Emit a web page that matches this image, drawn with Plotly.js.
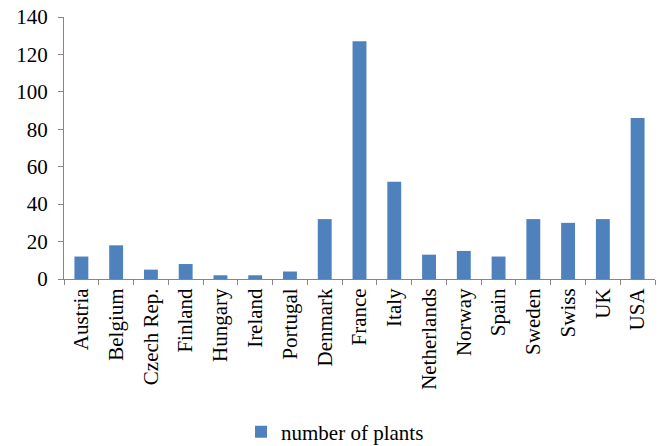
<!DOCTYPE html>
<html>
<head>
<meta charset="utf-8">
<script src="https://cdn.plot.ly/plotly-3.0.1.min.js"></script>
<style>html,body{margin:0;padding:0;background:#fff;}#chart{width:664px;height:446px;}</style>
</head>
<body>
<div id="chart"></div>
<script>
const countries = ["Austria","Belgium","Czech Rep.","Finland","Hungary","Ireland","Portugal","Denmark","France","Italy","Netherlands","Norway","Spain","Sweden","Swiss","UK","USA"];
const plants = [12,18,5,8,2,2,4,32,127,52,13,15,12,32,30,32,86];
const yTicks = [0,20,40,60,80,100,120,140];
const seriesName = "number of plants";

const axisColor = "#868686";
const fontFam = "Liberation Serif, serif";

Plotly.newPlot("chart", [{
  type: "bar",
  x: countries,
  y: plants,
  name: seriesName,
  marker: {color: "#4F81BD"},
  showlegend: true
}], {
  width: 664, height: 446,
  margin: {l: 64, r: 9, t: 17, b: 167, autoexpand: false},
  paper_bgcolor: "#fff", plot_bgcolor: "#fff",
  bargap: 0.6,
  font: {family: fontFam, color: "#000", size: 21},
  xaxis: {
    type: "category", automargin: false,
    showline: true, linecolor: axisColor, linewidth: 1,
    ticks: "outside", tickson: "boundaries", ticklen: 5, tickcolor: axisColor,
    tickangle: -90, showgrid: false, zeroline: false,
    tickfont: {family: fontFam, size: 21, color: "#000"}
  },
  yaxis: {
    range: [0, 140], tickvals: yTicks, automargin: false,
    showline: true, linecolor: axisColor, linewidth: 1,
    ticks: "outside", ticklen: 5, tickcolor: axisColor,
    ticklabelstandoff: 6,
    showgrid: false, zeroline: false,
    tickfont: {family: fontFam, size: 21, color: "#000"}
  },
  showlegend: true,
  legend: {
    orientation: "h", xref: "container", yref: "container",
    x: 0.363, xanchor: "left", y: 0.031, yanchor: "middle",
    font: {family: fontFam, size: 21, color: "#000"},
    itemwidth: 30
  }
}, {displayModeBar: false, staticPlot: true});
</script>
</body>
</html>
